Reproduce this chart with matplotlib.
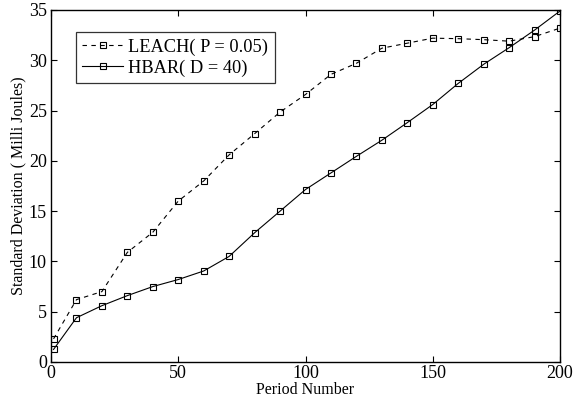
import matplotlib
matplotlib.use("Agg")
import matplotlib.pyplot as plt

periods = [1, 10, 20, 30, 40, 50, 60, 70, 80, 90, 100, 110, 120, 130, 140, 150, 160, 170, 180, 190, 200]
leach = [2.3, 6.2, 7.0, 10.9, 12.9, 16.0, 18.0, 20.6, 22.7, 24.85, 26.6, 28.6, 29.7, 31.2, 31.7, 32.2, 32.15, 32.05, 31.9, 32.35, 33.2]
hbar = [1.25, 4.4, 5.6, 6.6, 7.5, 8.2, 9.05, 10.5, 12.85, 15.0, 17.15, 18.8, 20.45, 22.05, 23.8, 25.6, 27.7, 29.6, 31.25, 33.0, 34.9]

x_ticks = [0, 50, 100, 150, 200]
y_ticks = [0, 5, 10, 15, 20, 25, 30, 35]
labels = ["LEACH( P = 0.05)", "HBAR( D = 40)"]

plt.rcParams['font.family'] = ['Liberation Serif', 'DejaVu Serif']

fig = plt.figure(figsize=(5.73, 4.0), dpi=100)
ax = fig.add_axes([51/573, 1-362/400, (560-51)/573, (362-10)/400])

ax.plot(periods, leach, color='black', linestyle=(0, (4, 4)), linewidth=0.8,
        marker='s', markersize=4.5, markerfacecolor='none', markeredgewidth=0.8,
        label=labels[0])
ax.plot(periods, hbar, color='black', linestyle='-', linewidth=0.8,
        marker='s', markersize=4.5, markerfacecolor='none', markeredgewidth=0.8,
        label=labels[1])

ax.set_xlim(0, 200)
ax.set_ylim(0, 35)
ax.set_xticks(x_ticks)
ax.set_yticks(y_ticks)
ax.tick_params(direction='in', top=True, right=True, labelsize=13, length=4, width=0.8, pad=3)
ax.tick_params(axis='x', pad=2)
for s in ax.spines.values():
    s.set_linewidth(1.0)

ax.set_xlabel("Period Number", fontsize=11.5, labelpad=0)
ax.set_ylabel("Standard Deviation ( Milli Joules)", fontsize=11.5, labelpad=2)

leg = ax.legend(loc='upper left', bbox_to_anchor=((76-51)/509, 1-(32-10)/352),
                fontsize=13.2, frameon=True, fancybox=False, edgecolor='black',
                handlelength=2.2, handletextpad=0.3, borderpad=0.35, labelspacing=0.2,
                borderaxespad=0)
leg.get_frame().set_linewidth(0.9)

fig.savefig("out.png", dpi=100)
